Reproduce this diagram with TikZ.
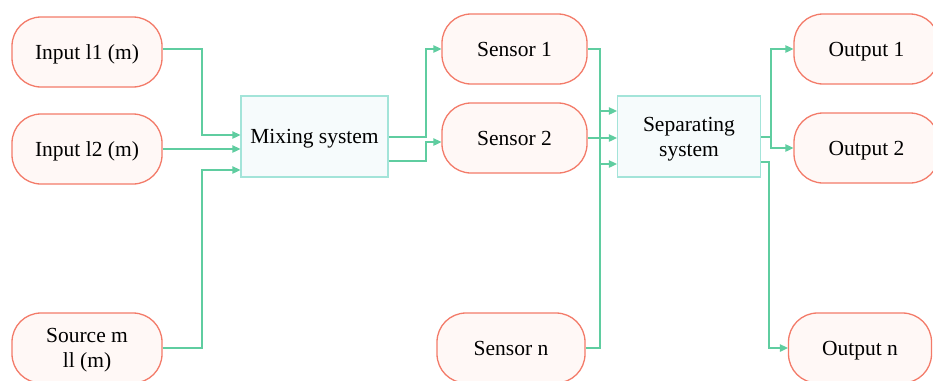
\documentclass[tikz,border=0pt]{standalone}
\usepackage{fontspec}
\setmainfont{Liberation Serif}
\usetikzlibrary{arrows.meta}
\definecolor{pillline}{HTML}{F37B69}
\definecolor{pillfill}{HTML}{FFF8F6}
\definecolor{boxline}{HTML}{A3E4D9}
\definecolor{boxfill}{HTML}{F6FBFC}
\definecolor{flowgreen}{HTML}{5FCDA0}
\tikzset{
  pill/.style={draw=pillline, fill=pillfill, line width=1.3pt, rounded corners=29pt,
    minimum width=150pt, minimum height=70pt, inner sep=0pt, align=center,
    text depth=0pt, font=\fontsize{21.5}{25}\selectfont},
  unit/.style={draw=boxline, fill=boxfill, line width=1.3pt,
    minimum height=81pt, inner sep=0pt, align=center,
    text depth=0pt, font=\fontsize{21.5}{25}\selectfont},
  link/.style={draw=flowgreen, line width=1.3pt},
  flow/.style={link, -{Triangle[length=8pt,width=7.5pt]}}
}
\begin{document}
\begin{tikzpicture}[x=1pt,y=-1pt]
\useasboundingbox (0,0) rectangle (933,380);
% sources
\node[pill] (in1) at (87,52) {Input l1 (m)};
\node[pill] (in2) at (87,149) {Input l2 (m)};
\node[pill] (src) at (87,348) {Source m\\ll (m)};
% mixing
\node[unit, minimum width=147pt] (mix) at (314.5,136.5) {Mixing system};
% sensors
\node[pill, minimum width=145pt] (s1) at (514.5,49) {Sensor 1};
\node[pill, minimum width=145pt] (s2) at (514.5,138) {Sensor 2};
\node[pill, minimum width=148pt] (sn) at (511,348) {Sensor n};
% separating
\node[unit, minimum width=143pt] (sep) at (689,136.5) {Separating\\system};
% outputs
\node[pill, minimum width=145pt] (out1) at (866.5,49) {Output 1};
\node[pill, minimum width=145pt] (out2) at (866.5,148) {Output 2};
\node[pill, minimum width=143pt] (outn) at (860,348) {Output n};

% junction points
\coordinate (j0) at (202,49);
\coordinate (j1) at (202,135);
\coordinate (j3) at (202,170);
\coordinate (m1) at (426,137);
\coordinate (m2) at (426,161);
\coordinate (bus) at (600,0);
\coordinate (k1) at (600,111);
\coordinate (k3) at (600,164);
\coordinate (o1) at (771,137);
\coordinate (o2) at (769,162);

% into the mixing system
\draw[flow] (in1.east |- j0) -- (j0) -- (j1) -- (j1 -| mix.west);
\draw[flow] (in2.east) -- (in2.east -| mix.west);
\draw[flow] (src.east) -| (j3) -- (j3 -| mix.west);
% mixing system to sensors
\draw[flow] (mix.east |- m1) -- (m1) |- (s1.west);
\draw[flow] (mix.east |- m2) -- (m2) |- ([yshift=-4pt]s2.west);
% sensor bus
\draw[link] (s1.east) -| (bus |- sn.east) -- (sn.east);
\draw[flow] (k1) -- (k1 -| sep.west);
\draw[flow] (s2.east) -- (s2.east -| sep.west);
\draw[flow] (k3) -- (k3 -| sep.west);
% separating system to outputs
\draw[link] (sep.east |- o1) -- (o1);
\draw[flow] (o1) |- (out1.west);
\draw[flow] (o1) |- (out2.west);
\draw[flow] (sep.east |- o2) -- (o2) |- (outn.west);
\end{tikzpicture}
\end{document}
